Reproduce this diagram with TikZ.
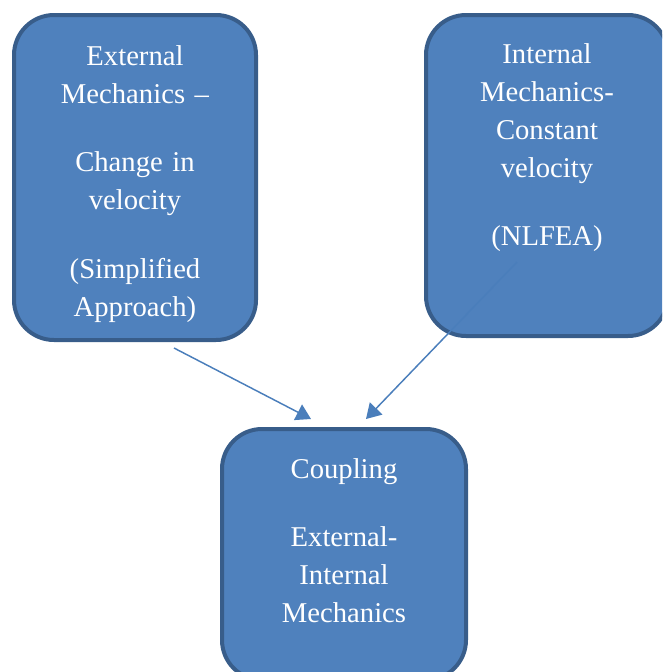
\documentclass[tikz,border=0pt]{standalone}
\usepackage{fontspec}
\setmainfont{Liberation Serif}
\usetikzlibrary{arrows.meta}

\definecolor{boxfill}{HTML}{4F81BD}
\definecolor{boxline}{HTML}{385D8A}
\definecolor{flowline}{HTML}{4A7EBB}

\begin{document}
\begin{tikzpicture}[x=0.75pt,y=-0.75pt,
  stage/.style={draw=boxline,fill=boxfill,line width=3pt,rounded corners=30pt,inner sep=0pt},
  stagetext/.style={text=white,anchor=base,text width=170pt,align=center,inner sep=0pt,
    font=\fontsize{21.5}{28.5}\selectfont},
  flow/.style={draw=flowline,line width=1.1pt,-{Triangle[length=11pt,width=13pt]}}]
  \useasboundingbox (0,0) rectangle (662,672);
  \clip (0,0) rectangle (662,672);
  % the three blocks
  \node[stage,minimum width=181.5pt,minimum height=243.75pt] (external) at (135,177.5){};
  \node[stage,minimum width=181.5pt,minimum height=240.75pt] (internal) at (547,175.5){};
  \node[stage,minimum width=183pt,minimum height=188.25pt] (coupling) at (344,554.5){};
  \node[stagetext] (externaltext) at (135,65){External\\Mechanics –\\[23pt]Change in\\velocity\\[23pt](Simplified\\Approach)};
  \node[stagetext] (internaltext) at (547,63){Internal\\Mechanics-\\Constant\\velocity\\[23pt](NLFEA)};
  \node[stagetext] (couplingtext) at (344,478){Coupling\\[23pt]External-\\Internal\\Mechanics};
  % arrows into the coupling block
  \coordinate (externaltail) at (174,348);
  \coordinate (externalhead) at (311,419);
  \coordinate (internaltail) at (517,262);
  \coordinate (internalhead) at (366,419);
  \draw[flow] (externaltail) -- (externalhead);
  \draw[flow] (internaltail) -- (internalhead);
\end{tikzpicture}
\end{document}
